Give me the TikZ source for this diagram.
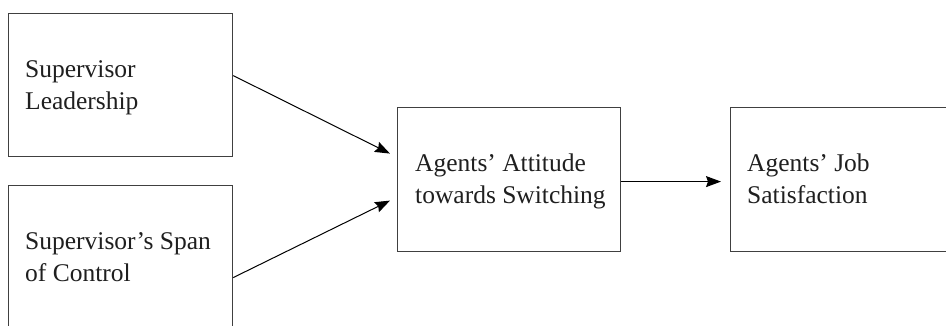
\documentclass[tikz,border=0pt]{standalone}
\usepackage{fontspec}
\setmainfont{Liberation Serif}
\usetikzlibrary{arrows.meta,calc}
\begin{document}
\begin{tikzpicture}[x=1pt,y=-1pt,
  box/.style={draw=black!75, line width=1.2pt, rectangle, inner sep=0pt, anchor=north west},
  lbl/.style={anchor=base west, align=left, inner sep=0pt, font=\fontsize{25.5}{31.7}\selectfont, text=black!88},
  conn/.style={line width=1pt, -{Stealth[length=15pt,width=11pt,inset=2pt]}}]
\useasboundingbox (0,0) rectangle (946,326);
\clip (0,0) rectangle (946,326);
\node[box, minimum width=224pt, minimum height=143pt] (sl) at (8,13) {};
\node[box, minimum width=224pt, minimum height=143pt] (sc) at (8,185) {};
\node[box, minimum width=223pt, minimum height=144pt] (ma) at (397,107) {};
\node[box, minimum width=223pt, minimum height=144pt] (js) at (730,107) {};
\node[lbl] (tsl) at ($(sl.north west)+(17,96.7)$) {Supervisor\\Leadership};
\node[lbl] (tsc) at ($(sc.north west)+(17,96.7)$) {Supervisor’s Span\\of Control};
\node[lbl] (tma) at ($(ma.north west)+(18,96.4)$) {Agents’ Attitude\\towards Switching};
\node[lbl] (tjs) at ($(js.north west)+(17,96.4)$) {Agents’ Job\\Satisfaction};
\draw[conn] ($(sl.east)+(0,-9.5)$) -- ($(ma.west)+(-7,-26)$);
\draw[conn] ($(sc.east)+(0,20.5)$) -- ($(ma.west)+(-7,21)$);
\draw[conn] ($(ma.east)+(0,2)$) -- ($(js.west)+(-9,2)$);
\end{tikzpicture}
\end{document}
